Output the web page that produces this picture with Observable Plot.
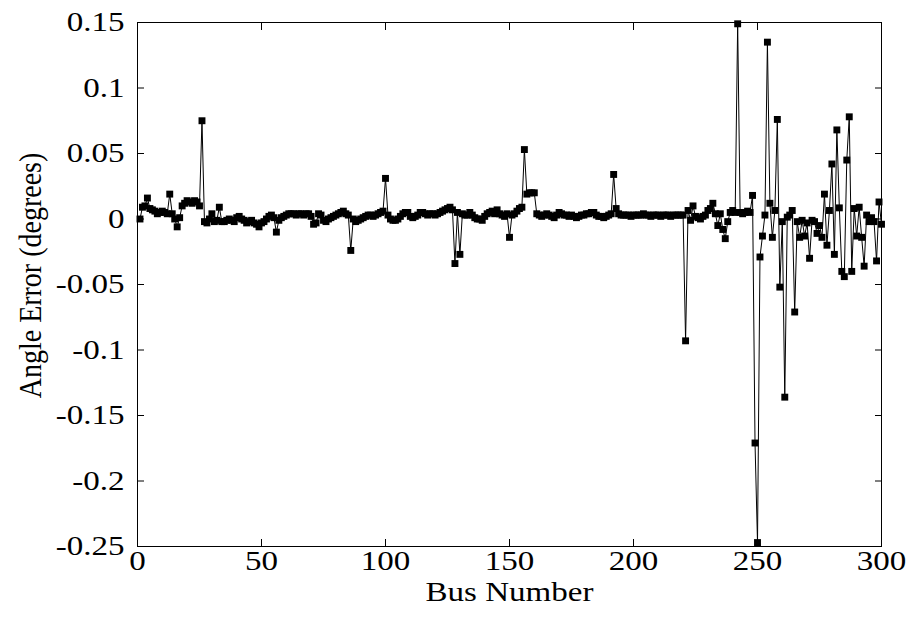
<!DOCTYPE html>
<html>
<head>
<meta charset="utf-8">
<script src="https://cdn.jsdelivr.net/npm/d3@7"></script>
<script src="https://cdn.jsdelivr.net/npm/@observablehq/plot@0.6"></script>
<style>
  html, body { margin: 0; padding: 0; background: #fff; }
  #chart { width: 912px; height: 621px; }
</style>
</head>
<body>
<div id="chart"></div>
<script>
// Angle estimation error per bus of the 300-bus test system
const angleError = [
  0.000, 0.009, 0.010, 0.016, 0.008, 0.007, 0.006, 0.004, 0.005, 0.006,
  0.005, 0.004, 0.019, 0.004, 0.000, -0.006, 0.001, 0.010, 0.012, 0.014,
  0.013, 0.012, 0.014, 0.013, 0.010, 0.075, -0.002, -0.003, 0.000, 0.004,
  -0.002, -0.001, 0.009, -0.002, -0.002, -0.001, 0.000, -0.001, -0.002, 0.001,
  0.002, 0.000, -0.001, -0.003, -0.002, -0.001, -0.003, -0.004, -0.006, -0.003,
  -0.002, 0.000, 0.002, 0.003, 0.001, -0.010, -0.001, 0.001, 0.002, 0.003,
  0.004, 0.004, 0.004, 0.003, 0.004, 0.004, 0.003, 0.004, 0.004, 0.002,
  -0.004, -0.003, 0.004, 0.003, -0.001, -0.002, 0.000, 0.001, 0.002, 0.003,
  0.004, 0.005, 0.006, 0.004, 0.003, -0.024, 0.000, -0.002, -0.001, 0.000,
  0.001, 0.002, 0.003, 0.003, 0.002, 0.003, 0.004, 0.005, 0.006, 0.031,
  0.003, 0.000, -0.001, -0.001, 0.000, 0.002, 0.004, 0.005, 0.005, 0.002,
  0.001, 0.002, 0.003, 0.005, 0.005, 0.004, 0.003, 0.004, 0.004, 0.003,
  0.004, 0.005, 0.006, 0.007, 0.008, 0.009, 0.007, -0.034, 0.005, -0.027,
  0.004, 0.003, 0.003, 0.005, 0.003, 0.001, 0.000, 0.000, -0.001, 0.002,
  0.004, 0.005, 0.006, 0.004, 0.007, 0.004, 0.003, 0.002, 0.004, -0.014,
  0.003, 0.004, 0.006, 0.008, 0.009, 0.053, 0.019, 0.020, 0.020, 0.020,
  0.004, 0.003, 0.002, 0.003, 0.004, 0.003, 0.002, 0.001, 0.003, 0.005,
  0.004, 0.003, 0.003, 0.002, 0.003, 0.002, 0.001, 0.002, 0.003, 0.003,
  0.004, 0.004, 0.005, 0.005, 0.003, 0.002, 0.002, 0.001, 0.002, 0.003,
  0.004, 0.034, 0.008, 0.004, 0.003, 0.003, 0.003, 0.003, 0.002, 0.003,
  0.003, 0.003, 0.003, 0.004, 0.003, 0.003, 0.002, 0.003, 0.003, 0.003,
  0.002, 0.003, 0.003, 0.003, 0.002, 0.003, 0.003, 0.003, 0.003, 0.003,
  -0.093, 0.0065, -0.001, 0.010, 0.002, 0.001, 0.000, 0.002, 0.003, 0.0065,
  0.008, 0.012, 0.004, -0.005, 0.004, -0.008, -0.015, -0.002, 0.005, 0.0065,
  0.005, 0.149, 0.005, 0.004, 0.005, 0.006, 0.005, 0.018, -0.171, -0.247,
  -0.029, -0.013, 0.003, 0.135, 0.012, -0.014, 0.0065, 0.076, -0.052, -0.002,
  -0.136, 0.0014, 0.003, 0.0065, -0.071, -0.002, -0.014, -0.001, -0.013, -0.003,
  -0.030, -0.001, -0.002, -0.011, -0.005, -0.014, 0.019, -0.020, 0.0065, 0.042,
  -0.027, 0.068, 0.0085, -0.040, -0.044, 0.045, 0.078, -0.040, 0.008, -0.013,
  0.009, -0.014, -0.036, 0.003, -0.002, 0.001, -0.002, -0.032, 0.013, -0.004
];
const busNumbers = angleError.map((_, i) => i + 1);

const xTicks = [0, 50, 100, 150, 200, 250, 300];
const yTicks = [0.15, 0.1, 0.05, 0, -0.05, -0.1, -0.15, -0.2, -0.25];
const yTickLabels = ["0.15", "0.1", "0.05", "0", "-0.05", "-0.1", "-0.15", "-0.2", "-0.25"];
const xTitle = "Bus Number";
const yTitle = "Angle Error (degrees)";

const rows = busNumbers.map((bus, i) => ({bus, err: angleError[i]}));
const yLabelOf = new Map(yTicks.map((t, i) => [t, yTickLabels[i]]));

const chart = Plot.plot({
  width: 912,
  height: 621,
  marginLeft: 137,
  marginRight: 31,
  marginTop: 22,
  marginBottom: 75,
  style: {fontFamily: "'Liberation Serif', 'Times New Roman', serif", fontSize: "28px", color: "black", background: "white"},
  x: {domain: [0, 300]},
  y: {domain: [-0.25, 0.15]},
  marks: [
    Plot.line(rows, {x: "bus", y: "err", stroke: "black", strokeWidth: 1}),
    Plot.dot(rows, {x: "bus", y: "err", symbol: "square", fill: "black", stroke: "none", r: 3.9}),
    Plot.frame({stroke: "black", strokeWidth: 1}),
    Plot.axisX(xTicks, {anchor: "bottom", tickSize: -7, tickPadding: 11, label: null}),
    Plot.axisX(xTicks, {anchor: "top", tickSize: -7, tickFormat: () => "", label: null}),
    Plot.axisY(yTicks, {anchor: "left", tickSize: -7, tickPadding: 20, tickFormat: d => yLabelOf.get(d), label: null}),
    Plot.axisY(yTicks, {anchor: "right", tickSize: -7, tickFormat: () => "", label: null}),
    // axis titles
    Plot.text([xTitle], {frameAnchor: "bottom", textAnchor: "middle", text: d => d, dy: 46, lineAnchor: "middle"}),
    Plot.text([yTitle], {frameAnchor: "left", textAnchor: "middle", text: d => d, rotate: -90, dx: -107, dy: -9, lineAnchor: "middle"})
  ]
});

// the type in this figure is set slightly wide: stretch every label horizontally
chart.querySelectorAll("text").forEach(t => {
  let tr = t.getAttribute("transform") || "";
  const x = t.getAttribute("x");
  if (x !== null && !/em/.test(x)) {
    const y = t.getAttribute("y");
    const yNum = y !== null && !/em/.test(y) ? y : 0;
    tr += ` translate(${x},${yNum})`;
    t.removeAttribute("x");
    if (yNum !== 0) t.removeAttribute("y");
  }
  tr += /rotate/.test(tr) ? " scale(1,1.15)" : " scale(1.18,1)";
  t.setAttribute("transform", tr.trim());
});

document.getElementById("chart").appendChild(chart);
</script>
</body>
</html>
